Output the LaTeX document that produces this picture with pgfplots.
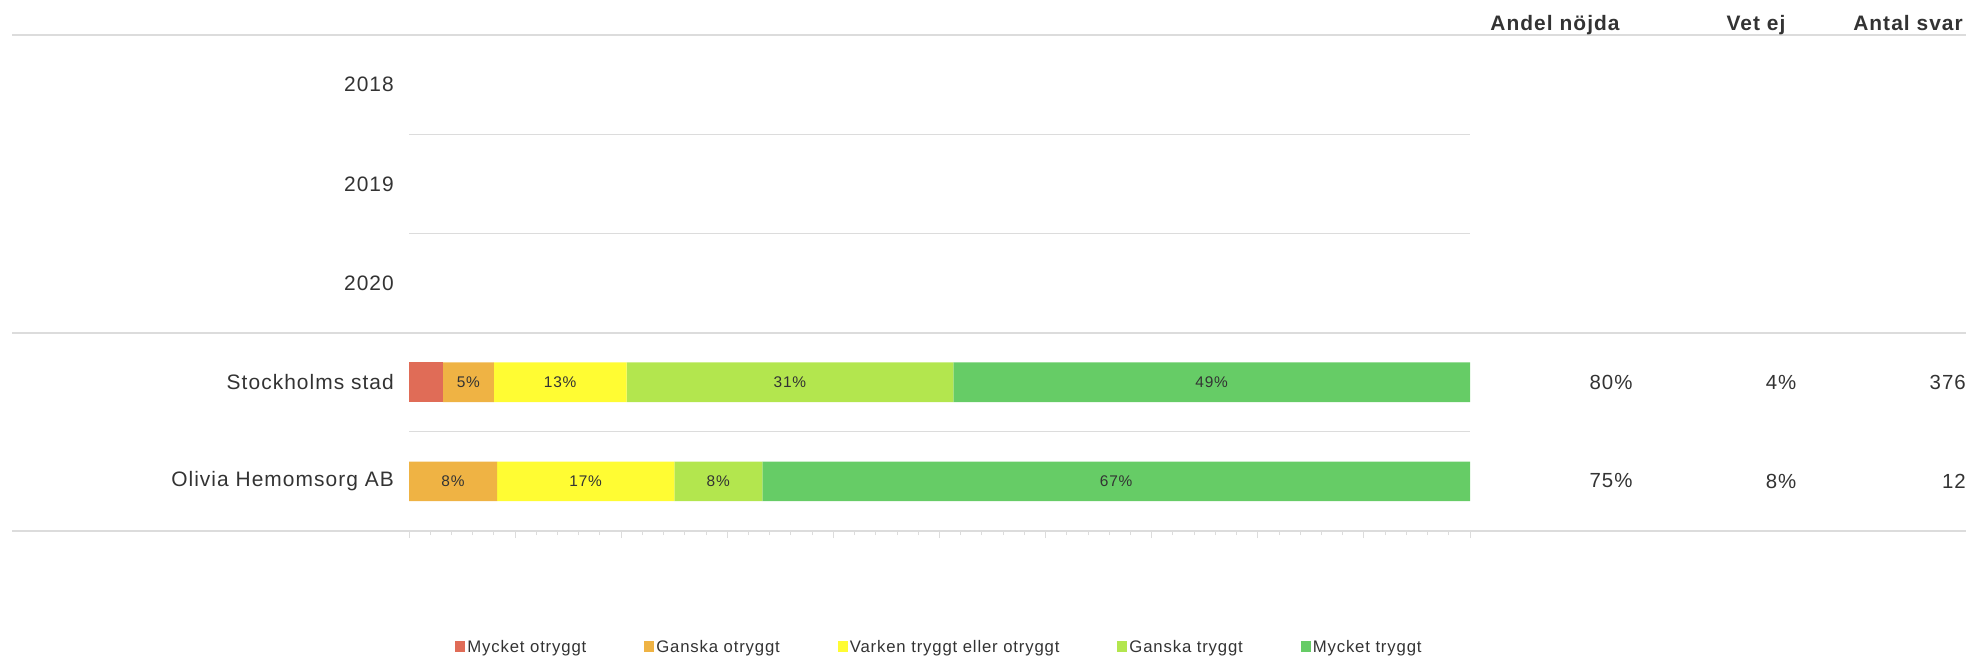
\documentclass[border=0pt]{standalone}
\usepackage{fontspec}
\setmainfont{Liberation Sans}[LetterSpace=5]
\usepackage{pgfplots}
\pgfplotsset{compat=1.18}

\definecolor{txt}{HTML}{333333}
\definecolor{rule}{HTML}{DCDCDC}
\definecolor{cA}{HTML}{E06C57}
\definecolor{cB}{HTML}{EFB344}
\definecolor{cC}{HTML}{FFFC33}
\definecolor{cD}{HTML}{B3E64E}
\definecolor{cE}{HTML}{66CC66}

\newcommand{\fs}[1]{\fontsize{#1}{#1}\selectfont}

\begin{document}
\begin{tikzpicture}[x=1bp,y=1bp]
\path[use as bounding box] (0,0) rectangle (1966,-657);

% rows: 4=2018 ... 1=Stockholms stad, 0=Olivia Hemomsorg AB
\begin{axis}[
    at={(409bp,-35bp)}, anchor=north west,
    scale only axis, width=1061bp, height=496bp,
    xbar stacked, bar width=0.4,
    xmin=0, xmax=100, ymin=-0.5, ymax=4.5,
    axis x line*=bottom, axis y line*=left,
    x axis line style={rule, line width=1.5bp},
    y axis line style={draw=none},
    xtick={0,10,...,100}, minor x tick num=4, xticklabels={},
    tick align=outside, major tick length=7bp, minor tick length=4bp,
    xtick style={rule, line width=1bp},
    ytick={0,1,2,3,4},
    yticklabels={Olivia Hemomsorg AB,Stockholms stad,2020,2019,2018},
    ytick style={draw=none},
    yticklabel style={font=\fs{21}, text=txt, inner sep=0pt, xshift=-8bp},
    extra y ticks={0.5,2.5,3.5}, extra y tick labels={},
    extra y tick style={grid=major, major grid style={rule, line width=1bp}, tick style={draw=none}},
    nodes near coords style={font=\fs{15.5}, text=txt},
    legend columns=5,
    legend style={at={(0.5,-0.234)}, anchor=center, draw=none, fill=none,
        font=\fs{16.8}, text=txt,
        /tikz/every even column/.append style={column sep=56bp}},
    legend image code/.code={\fill[#1] (0bp,-5bp) rectangle (10bp,6bp);},
]
\addplot[fill=cA, draw=none] coordinates {(3.2,1) (0,0)};
\addplot[fill=cB, draw=none, nodes near coords, point meta=explicit symbolic]
    coordinates {(4.8,1) [5\%] (8.3,0) [8\%]};
\addplot[fill=cC, draw=none, nodes near coords, point meta=explicit symbolic]
    coordinates {(12.5,1) [13\%] (16.7,0) [17\%]};
\addplot[fill=cD, draw=none, nodes near coords, point meta=explicit symbolic]
    coordinates {(30.8,1) [31\%] (8.3,0) [8\%]};
\addplot[fill=cE, draw=none, nodes near coords, point meta=explicit symbolic]
    coordinates {(48.7,1) [49\%] (66.7,0) [67\%]};
\legend{Mycket otryggt,Ganska otryggt,Varken tryggt eller otryggt,Ganska tryggt,Mycket tryggt}
\end{axis}

% full width rules
\draw[rule, line width=1.5bp] (12,-35) -- (1966,-35);
\draw[rule, line width=1.5bp] (12,-333) -- (1966,-333);
\draw[rule, line width=1.5bp] (12,-531) -- (1966,-531);

% header
\begin{scope}[every node/.style={font=\fs{21}\bfseries, text=txt, inner sep=0pt}]
\node[anchor=base] at (1555,-31) {Andel nöjda};
\node[anchor=base] at (1756,-31) {Vet ej};
\node[anchor=base east] at (1963,-31) {Antal svar};
\end{scope}

% table values
\begin{scope}[every node/.style={font=\fs{20.5}, text=txt}]
\node at (1611,-382) {80\%};
\node at (1781,-382) {4\%};
\node[anchor=east, inner sep=0pt] at (1966,-382) {376};
\node at (1611,-481) {75\%};
\node at (1781,-481) {8\%};
\node[anchor=east, inner sep=0pt] at (1966,-481) {12};
\end{scope}
\end{tikzpicture}
\end{document}
